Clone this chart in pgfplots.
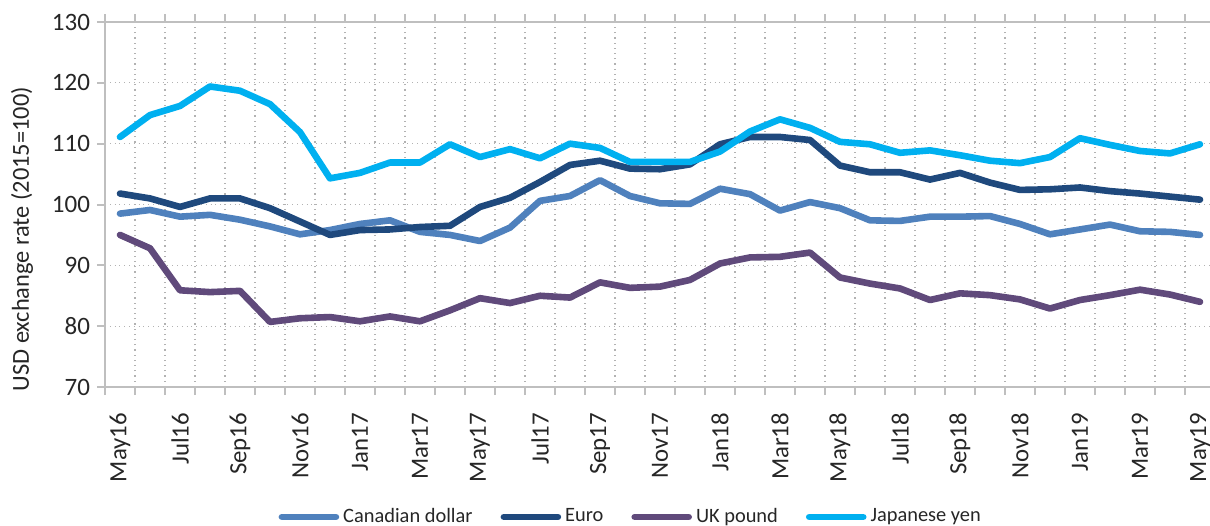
\documentclass[border=0pt]{standalone}
\usepackage{pgfplots}
\pgfplotsset{compat=1.18}
\usepackage{pgfplotstable}
\usepackage{fontspec}
\setmainfont{Carlito}

\definecolor{cad}{HTML}{4F81BD}
\definecolor{eur}{HTML}{1F497D}
\definecolor{gbp}{HTML}{604A7B}
\definecolor{jpy}{HTML}{00B0F0}
\definecolor{axgray}{HTML}{BFBFBF}
\definecolor{txt}{HTML}{262626}

\newcommand\mlab[1]{#1\kern5.5pt}

% monthly index values, May 2016 (0) to May 2019 (36)
\pgfplotstableread{
i   cad    eur    gbp   jpy
0   98.5   101.8  95.0  111.1
1   99.1   101.0  92.8  114.7
2   98.0   99.6   85.9  116.2
3   98.3   101.0  85.6  119.4
4   97.5   101.0  85.8  118.7
5   96.4   99.4   80.7  116.5
6   95.1   97.2   81.3  111.9
7   95.8   95.0   81.5  104.3
8   96.8   95.8   80.8  105.2
9   97.4   95.9   81.6  106.9
10  95.5   96.3   80.8  106.9
11  95.0   96.5   82.6  109.9
12  94.0   99.6   84.6  107.8
13  96.2   101.1  83.8  109.1
14  100.6  103.7  85.0  107.6
15  101.4  106.5  84.7  110.0
16  104.0  107.2  87.2  109.3
17  101.4  105.9  86.3  107.0
18  100.2  105.8  86.5  107.0
19  100.1  106.6  87.6  107.0
20  102.6  109.9  90.3  108.7
21  101.7  111.1  91.3  112.0
22  99.0   111.1  91.4  114.0
23  100.4  110.6  92.1  112.6
24  99.4   106.4  88.0  110.3
25  97.4   105.3  87.0  109.9
26  97.3   105.3  86.2  108.5
27  98.0   104.1  84.3  108.9
28  98.0   105.2  85.4  108.1
29  98.1   103.6  85.1  107.2
30  96.8   102.4  84.4  106.8
31  95.1   102.5  82.9  107.8
32  95.9   102.8  84.3  110.9
33  96.7   102.2  85.1  109.8
34  95.6   101.8  86.0  108.8
35  95.5   101.3  85.2  108.4
36  95.0   100.8  84.0  109.9
}\fx

\begin{document}
\begin{tikzpicture}
\begin{axis}[
    at={(52.5pt,69pt)}, anchor=south west,
    scale only axis,
    width=555pt, height=182.5pt,
    xmin=-0.5, xmax=36.5,
    ymin=70, ymax=130,
    ytick={70,80,...,130},
    xtick={0,2,...,36},
    xticklabels={\mlab{May16},\mlab{Jul16},\mlab{Sep16},\mlab{Nov16},\mlab{Jan17},\mlab{Mar17},\mlab{May17},\mlab{Jul17},\mlab{Sep17},\mlab{Nov17},\mlab{Jan18},\mlab{Mar18},\mlab{May18},\mlab{Jul18},\mlab{Sep18},\mlab{Nov18},\mlab{Jan19},\mlab{Mar19},\mlab{May19}},
    minor xtick={-0.5,0.5,...,36.5},
    xticklabel style={rotate=90, anchor=east,
        font=\fontsize{12.4}{14}\selectfont, text=txt},
    every major x tick/.append style={draw=none},
    xmajorgrids=false, xminorgrids=true, ymajorgrids=true,
    grid style={gray!60, dotted, line width=0.6pt},
    minor grid style={gray!60, dotted, line width=0.6pt},
    tick align=outside,
    major tick length=4pt,
    minor tick length=4pt,
    tick style={axgray, line width=1pt},
    minor tick style={axgray, line width=1pt},
    axis line style={axgray, line width=1.2pt},
    yticklabel style={font=\fontsize{12.5}{14}\selectfont, text=txt},
    /pgf/number format/assume math mode=true,
    ylabel={USD exchange rate (2015=100)},
    every axis y label/.style={at={(axis description cs:0,0.405)}, xshift=-41.5pt,
        anchor=center, rotate=90, font=\fontsize{12.2}{14}\selectfont, text=txt},
    every axis plot/.append style={line width=3.3pt, line join=round, line cap=round},
    legend columns=4,
    legend style={at={(axis description cs:0.4745,-0.356)}, anchor=center,
        draw=none, fill=none, font=\fontsize{10.2}{12}\selectfont, text=txt,
        /tikz/every even column/.append style={column sep=12pt}},
    legend image code/.code={\draw[#1] (0pt,0pt) -- (27pt,0pt);},
]
\addplot[cad] table[x=i, y=cad] {\fx};
\addlegendentry{Canadian dollar}
\addplot[eur] table[x=i, y=eur] {\fx};
\addlegendentry{Euro}
\addplot[gbp] table[x=i, y=gbp] {\fx};
\addlegendentry{UK pound}
\addplot[jpy] table[x=i, y=jpy] {\fx};
\addlegendentry{Japanese yen}
\end{axis}
\pgfresetboundingbox
\path[use as bounding box] (0,0) rectangle (605pt,262.5pt);
\end{tikzpicture}
\end{document}
